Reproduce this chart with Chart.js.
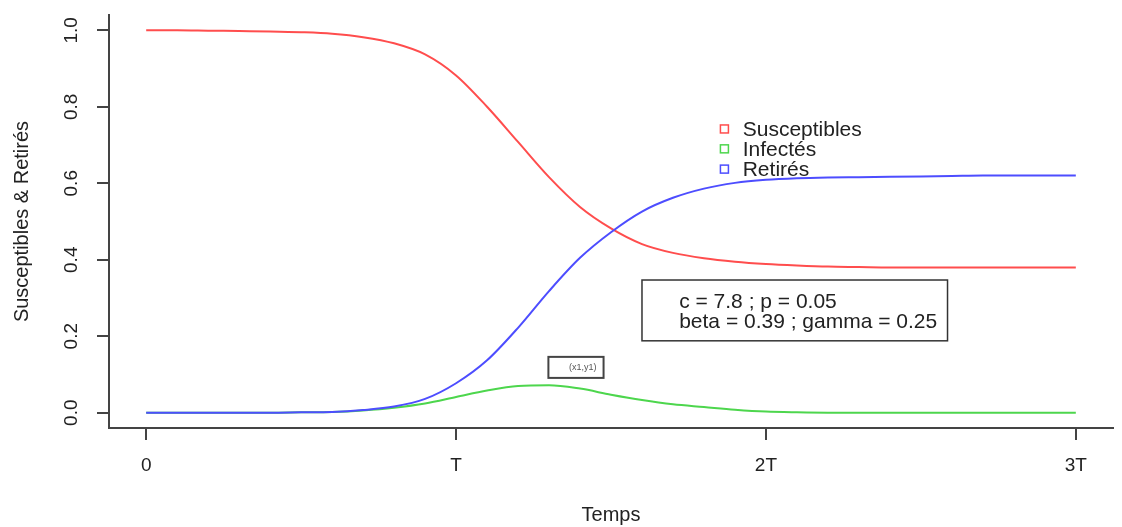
<!DOCTYPE html>
<html>
<head>
<meta charset="utf-8">
<script src="https://cdn.jsdelivr.net/npm/chart.js@4.4.0/dist/chart.umd.min.js"></script>
<style>
  html, body { margin: 0; padding: 0; background: #fff; }
  #wrap { width: 1122px; height: 527px; }
</style>
</head>
<body>
<div id="wrap"><canvas id="sirChart" width="1122" height="527"></canvas></div>
<script>
// time, in units of T
const temps = [0, 0.1, 0.2, 0.3, 0.4, 0.5, 0.6, 0.7, 0.8, 0.9, 1.0,
  1.1, 1.2, 1.3, 1.4, 1.5, 1.6, 1.7, 1.8, 1.9, 2.0,
  2.1, 2.2, 2.3, 2.4, 2.5, 2.6, 2.7, 2.8, 2.9, 3.0];
const susceptibles = [1.000, 1.000, 0.999, 0.998, 0.997, 0.995, 0.991, 0.982, 0.966, 0.937, 0.882,
  0.800, 0.708, 0.616, 0.538, 0.482, 0.441, 0.418, 0.404, 0.395, 0.389,
  0.385, 0.382, 0.381, 0.380, 0.380, 0.380, 0.380, 0.380, 0.380, 0.380];
const infectes = [0, 0, 0, 0, 0, 0.001, 0.002, 0.006, 0.013, 0.024, 0.041,
  0.058, 0.070, 0.072, 0.063, 0.047, 0.033, 0.022, 0.015, 0.008, 0.003,
  0.001, 0, 0, 0, 0, 0, 0, 0, 0, 0];
const retires = [0, 0, 0, 0, 0, 0.001, 0.002, 0.007, 0.016, 0.036, 0.077,
  0.137, 0.222, 0.318, 0.405, 0.472, 0.526, 0.562, 0.586, 0.601, 0.609,
  0.613, 0.615, 0.616, 0.617, 0.618, 0.619, 0.620, 0.620, 0.620, 0.620];

const xTicks = [0, 1, 2, 3];
const xTickLabels = ['0', 'T', '2T', '3T'];
const yTicks = [0, 0.2, 0.4, 0.6, 0.8, 1.0];
const paramLines = ['c = 7.8 ; p = 0.05', 'beta = 0.39 ; gamma = 0.25'];
const pointLabel = '(x1,y1)';

const FONT = "'Liberation Sans', Arial, Helvetica, sans-serif";
const INK = '#222';
const AXIS = '#444';

const toPoints = vals => vals.map((v, i) => ({ x: temps[i], y: v }));

// legend, parameter box and (x1,y1) tag, placed in data coordinates
const annotations = {
  id: 'annotations',
  afterDatasetsDraw(chart) {
    const { ctx, scales: { x, y } } = chart;
    ctx.save();

    // legend (open squares, no frame)
    const legX = 1.866, legTextX = 1.925;
    const legY = [0.742, 0.690, 0.637];
    ctx.font = '21px ' + FONT;
    ctx.textBaseline = 'middle';
    ctx.textAlign = 'left';
    chart.data.datasets.forEach((ds, i) => {
      const px = x.getPixelForValue(legX);
      const py = y.getPixelForValue(legY[i]);
      ctx.strokeStyle = ds.borderColor;
      ctx.lineWidth = 1.5;
      ctx.strokeRect(px - 4, py - 4, 8, 8);
      ctx.fillStyle = INK;
      ctx.fillText(ds.label, x.getPixelForValue(legTextX), py + 1);
    });

    // parameter box
    const bx1 = x.getPixelForValue(1.60), bx2 = x.getPixelForValue(2.586);
    const by1 = y.getPixelForValue(0.347), by2 = y.getPixelForValue(0.188);
    ctx.strokeStyle = '#333';
    ctx.lineWidth = 1.5;
    ctx.strokeRect(bx1, by1, bx2 - bx1, by2 - by1);
    ctx.fillStyle = INK;
    ctx.font = '21px ' + FONT;
    const lineY = [0.290, 0.236];
    paramLines.forEach((t, i) => {
      ctx.fillText(t, x.getPixelForValue(1.72), y.getPixelForValue(lineY[i]));
    });

    // (x1,y1) tag
    const tx1 = x.getPixelForValue(1.298), tx2 = x.getPixelForValue(1.476);
    const ty1 = y.getPixelForValue(0.146), ty2 = y.getPixelForValue(0.091);
    ctx.strokeStyle = '#444';
    ctx.lineWidth = 2;
    ctx.strokeRect(tx1, ty1, tx2 - tx1, ty2 - ty1);
    ctx.fillStyle = '#555';
    ctx.font = '9px ' + FONT;
    ctx.textAlign = 'right';
    ctx.fillText(pointLabel, x.getPixelForValue(1.453), y.getPixelForValue(0.1175));

    ctx.restore();
  }
};

const lineStyle = color => ({
  borderColor: color,
  backgroundColor: color,
  borderWidth: 2,
  pointRadius: 0,
  fill: false,
  cubicInterpolationMode: 'monotone'
});

new Chart(document.getElementById('sirChart'), {
  type: 'line',
  data: {
    datasets: [
      { label: 'Susceptibles', data: toPoints(susceptibles), order: 2, ...lineStyle('#ff4d4d') },
      { label: 'Infectés', data: toPoints(infectes), order: 1, ...lineStyle('#4dd64d') },
      { label: 'Retirés', data: toPoints(retires), order: 0, ...lineStyle('#4d4dff') }
    ]
  },
  options: {
    responsive: false,
    animation: false,
    layout: { padding: { left: 0, top: 15, right: 9, bottom: 0 } },
    plugins: { legend: { display: false }, tooltip: { enabled: false } },
    scales: {
      x: {
        type: 'linear',
        min: -0.12,
        max: 3.12,
        afterBuildTicks: s => { s.ticks = xTicks.map(v => ({ value: v })); },
        afterFit: s => { s.height = 99; s.paddingLeft = 0; s.paddingRight = 0; },
        grid: { drawOnChartArea: false, drawTicks: true, tickLength: 12, color: AXIS, lineWidth: 2 },
        border: { display: true, color: AXIS, width: 2 },
        ticks: {
          autoSkip: false, maxRotation: 0, minRotation: 0, padding: 14,
          color: INK, font: { family: FONT, size: 19 },
          callback: v => xTickLabels[xTicks.indexOf(v)] ?? ''
        },
        title: { display: true, text: 'Temps', color: INK, font: { family: FONT, size: 20 }, padding: { top: 0, bottom: 0 } }
      },
      y: {
        min: -0.04,
        max: 1.04,
        afterBuildTicks: s => { s.ticks = yTicks.map(v => ({ value: v })); },
        afterFit: s => { s.width = 109; s.paddingTop = 0; s.paddingBottom = 0; },
        grid: { drawOnChartArea: false, drawTicks: true, tickLength: 12, color: AXIS, lineWidth: 2 },
        border: { display: true, color: AXIS, width: 2 },
        ticks: {
          minRotation: 90, maxRotation: 90, crossAlign: 'center', padding: 12,
          color: INK, font: { family: FONT, size: 19 },
          callback: v => v.toFixed(1)
        },
        title: { display: true, text: 'Susceptibles & Retirés', color: INK, font: { family: FONT, size: 20 }, padding: { top: 10, bottom: 0 } }
      }
    }
  },
  plugins: [annotations]
});
</script>
</body>
</html>
